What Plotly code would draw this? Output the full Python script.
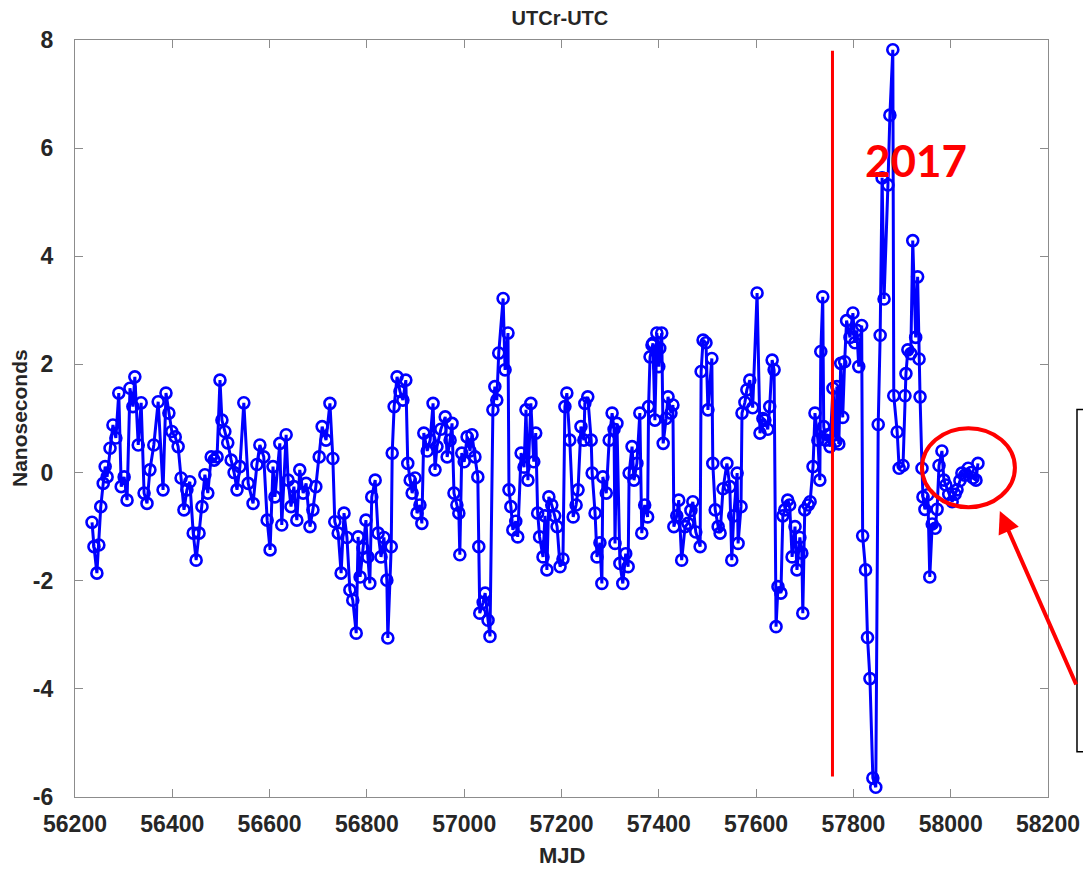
import plotly.graph_objects as go

# ---- data (MJD, nanoseconds) ----
mjd = [56235, 56239, 56245, 56249, 56253, 56258, 56262, 56266, 56272, 56278,
       56284, 56290, 56295, 56301, 56307, 56313, 56319, 56323, 56330, 56336,
       56342, 56348, 56354, 56362, 56371, 56381, 56387, 56393, 56399, 56406,
       56412, 56418, 56424, 56430, 56436, 56443, 56449, 56455, 56461, 56467,
       56473, 56480, 56486, 56492, 56498, 56502, 56508, 56514, 56521, 56527,
       56533, 56539, 56547, 56556, 56566, 56574, 56580, 56588, 56595, 56601,
       56607, 56611, 56621, 56625, 56634, 56638, 56644, 56650, 56656, 56662,
       56669, 56675, 56683, 56689, 56695, 56702, 56708, 56716, 56724, 56730,
       56734, 56741, 56747, 56753, 56759, 56765, 56771, 56778, 56782, 56786,
       56792, 56798, 56802, 56806, 56810, 56817, 56823, 56829, 56835, 56841,
       56843, 56850, 56852, 56856, 56862, 56868, 56874, 56880, 56884, 56889,
       56893, 56899, 56903, 56909, 56913, 56917, 56924, 56930, 56936, 56940,
       56944, 56952, 56961, 56965, 56971, 56975, 56979, 56985, 56989, 56991,
       56995, 57000, 57006, 57012, 57016, 57022, 57028, 57030, 57032, 57039,
       57043, 57049, 57053, 57059, 57063, 57067, 57071, 57080, 57084, 57090,
       57092, 57096, 57100, 57106, 57110, 57117, 57123, 57127, 57131, 57137,
       57143, 57147, 57151, 57155, 57162, 57166, 57170, 57174, 57180, 57186,
       57191, 57197, 57203, 57207, 57211, 57217, 57224, 57230, 57234, 57240,
       57246, 57248, 57254, 57261, 57263, 57269, 57273, 57279, 57283, 57285,
       57292, 57298, 57304, 57308, 57310, 57314, 57320, 57326, 57332, 57337,
       57339, 57345, 57349, 57355, 57361, 57365, 57371, 57377, 57379, 57382,
       57386, 57388, 57392, 57396, 57400, 57402, 57406, 57409, 57415, 57419,
       57425, 57429, 57431, 57437, 57441, 57447, 57454, 57460, 57466, 57470,
       57476, 57485, 57487, 57491, 57497, 57501, 57509, 57511, 57516, 57522,
       57526, 57532, 57540, 57546, 57550, 57554, 57561, 57563, 57569, 57571,
       57577, 57581, 57587, 57593, 57602, 57608, 57614, 57618, 57624, 57628,
       57633, 57637, 57641, 57645, 57651, 57655, 57659, 57665, 57669, 57674,
       57680, 57684, 57690, 57694, 57696, 57700, 57707, 57711, 57717, 57721,
       57727, 57731, 57733, 57737, 57739, 57743, 57747, 57752, 57758, 57764,
       57766, 57770, 57774, 57778, 57782, 57786, 57793, 57799, 57803, 57807,
       57811, 57817, 57819, 57825, 57829, 57834, 57840, 57846, 57851, 57855,
       57859, 57863, 57871, 57875, 57881, 57883, 57890, 57894, 57902, 57906,
       57908, 57912, 57918, 57922, 57928, 57932, 57935, 57937, 57941, 57943,
       57947, 57953, 57957, 57962, 57968, 57972, 57976, 57982, 57986, 57990,
       57996, 58003, 58009, 58013, 58019, 58023, 58029, 58036, 58042, 58046,
       58052, 58056]

utcr_utc = [-0.92, -1.37, -1.86, -1.34, -0.63, -0.20, 0.11, -0.08, 0.45, 0.88,
            0.64, 1.47, -0.26, -0.08, -0.51, 1.56, 1.22, 1.77, 0.51, 1.29,
            -0.38, -0.57, 0.05, 0.51, 1.31, -0.32, 1.47, 1.10, 0.76, 0.66,
            0.48, -0.10, -0.69, -0.32, -0.17, -1.12, -1.62, -1.12, -0.63, -0.04,
            -0.38, 0.29, 0.23, 0.29, 1.71, 0.97, 0.76, 0.55, 0.23, 0.00,
            -0.32, 0.11, 1.29, -0.20, -0.57, 0.15, 0.51, 0.29, -0.88, -1.43,
            0.11, -0.45, 0.54, -0.97, 0.70, -0.14, -0.63, -0.26, -0.88, 0.05,
            -0.38, -0.20, -1.00, -0.69, -0.26, 0.29, 0.85, 0.60, 1.28, 0.26,
            -0.91, -1.12, -1.86, -0.75, -1.20, -2.17, -2.36, -2.97, -1.19, -1.93,
            -1.40, -0.88, -1.56, -2.05, -0.45, -0.14, -1.12, -1.56, -1.20, -1.99,
            -3.06, -1.37, 0.36, 1.22, 1.77, 1.50, 1.34, 1.71, 0.17, -0.14,
            -0.38, -0.10, -0.75, -0.60, -0.94, 0.73, 0.40, 0.60, 1.28, 0.05,
            0.48, 0.80, 1.03, 0.29, 0.60, 0.91, -0.38, -0.60, -0.75, -1.52,
            0.36, 0.20, 0.66, 0.40, 0.70, 0.29, -0.08, -1.37, -2.60, -2.40,
            -2.23, -2.73, -3.03, 1.16, 1.59, 1.34, 2.21, 3.22, 1.90, 2.58,
            -0.32, -0.63, -1.06, -0.90, -1.19, 0.36, 0.10, 1.16, -0.14, 1.28,
            0.20, 0.73, -0.75, -1.19, -1.56, -0.80, -1.80, -0.45, -0.60, -0.80,
            -1.00, -1.74, -1.60, 1.22, 1.47, 0.60, -0.82, -0.60, -0.32, 0.85,
            0.60, 1.28, 1.40, 0.60, -0.01, -0.75, -1.56, -1.30, -2.05, -0.08,
            -0.38, 0.60, 1.10, 0.80, -1.31, 0.91, -1.68, -2.05, -1.50, -1.74,
            -0.01, 0.48, -0.14, 0.17, 1.10, -1.12, -0.60, -0.82, 1.22, 2.14,
            2.36, 2.39, 0.97, 2.58, 1.96, 2.30, 2.58, 0.54, 1.00, 1.40,
            1.10, 1.25, -1.00, -0.80, -0.51, -1.62, -1.00, -0.94, -0.70, -0.54,
            -1.10, -1.37, 1.87, 2.45, 2.40, 1.16, 2.11, 0.17, -0.69, -1.00,
            -1.12, -0.30, 0.17, -0.26, -1.62, -0.80, -0.01, -1.31, -0.63, 1.10,
            1.30, 1.53, 1.71, 1.20, 3.32, 0.73, 1.00, 0.97, 0.80, 1.22,
            2.08, 1.90, -2.85, -2.11, -2.23, -0.80, -0.69, -0.51, -0.60, -1.56,
            -1.00, -1.80, -1.20, -1.49, -2.60, -0.69, -0.60, -0.54, 0.11, 1.10,
            0.60, -0.14, 2.24, 3.25, 0.85, 0.60, 0.70, 0.48, 1.56, 0.58,
            1.59, 0.53, 2.02, 1.02, 2.05, 2.81, 2.50, 2.95, 2.40, 2.63,
            1.96, 2.72, -1.17, -1.80, -3.05, -3.81, -5.65, -5.82, 0.89, 2.54,
            5.45, 3.21, 5.32, 6.61, 7.82, 1.42, 0.75, 0.08, 0.13, 1.42,
            1.83, 2.27, 2.20, 4.29, 2.50, 3.62, 2.10, 1.40, 0.08, -0.45,
            -0.68, -0.41, -1.93, -0.95, -1.03, -0.68, 0.13, 0.40, -0.14, -0.23,
            -0.40, -0.54, -0.40, -0.32, -0.15, -0.01, -0.05, 0.08, 0.00, -0.10,
            -0.14, 0.17]

x_ticks = [56200, 56400, 56600, 56800, 57000, 57200, 57400, 57600, 57800, 58000, 58200]
y_ticks = [-6, -4, -2, 0, 2, 4, 6, 8]

marker_2017 = 57757          # red vertical line (start of 2017)
label_2017 = "2017"

FONT = "Liberation Sans, Arial, sans-serif"
AXIS_GREY = "#8c8c8c"
TEXT = "#262626"

fig = go.Figure()
fig.add_trace(go.Scatter(
    x=mjd, y=utcr_utc, mode="lines+markers",
    line=dict(color="#0000ff", width=3),
    marker=dict(symbol="circle-open", size=11, color="#0000ff",
                line=dict(width=2.6, color="#0000ff")),
    showlegend=False, cliponaxis=False, hoverinfo="skip",
))

axis_common = dict(
    showline=True, linecolor=AXIS_GREY, linewidth=1.2, mirror="ticks",
    ticks="inside", ticklen=8, tickwidth=1.2, tickcolor=AXIS_GREY,
    showgrid=False, zeroline=False, automargin=False,
    tickfont=dict(family=FONT, size=23, color=TEXT, weight="bold"),
)

fig.update_xaxes(range=[56200, 58200], tickvals=x_ticks,
                 ticktext=[str(v) for v in x_ticks], ticklabelstandoff=6,
                 **axis_common)
fig.update_yaxes(range=[-6, 8], tickvals=y_ticks,
                 ticktext=[str(v) for v in y_ticks], ticklabelstandoff=16,
                 **axis_common)

# red vertical line
fig.add_shape(type="line", xref="x", yref="y", x0=marker_2017, x1=marker_2017,
              y0=-5.62, y1=7.8, line=dict(color="#ff0000", width=3))
# red ellipse around the last points
fig.add_shape(type="circle", xref="x", yref="y", x0=57941, x1=58132,
              y0=-0.64, y1=0.82, line=dict(color="#ff0000", width=4))
# partial black box at the right edge
fig.add_shape(type="rect", xref="paper", yref="paper", x0=1.0298, x1=1.2,
              y0=0.0598, y1=0.512, line=dict(color="#000000", width=1.5))

annotations = [
    dict(x=57929, y=5.78, xref="x", yref="y", text=label_2017, showarrow=False,
         font=dict(family="Lato, Open Sans, sans-serif", size=44, color="#ff0000",
                   weight="bold")),
    dict(x=58101, y=-0.71, xref="x", yref="y", text="", showarrow=True,
         ax=77, ay=175, axref="pixel", ayref="pixel", arrowhead=2, arrowsize=1.1,
         arrowwidth=4, arrowcolor="#ff0000", standoff=0),
    dict(x=0.5, y=0, xref="paper", yref="paper", yanchor="top", yshift=-44,
         text="MJD", showarrow=False,
         font=dict(family=FONT, size=22, color=TEXT, weight="bold")),
    dict(x=0, y=0.5, xref="paper", yref="paper", xanchor="right", xshift=-42,
         text="Nanoseconds", textangle=-90, showarrow=False,
         font=dict(family=FONT, size=21, color=TEXT, weight="bold")),
]

fig.update_layout(
    width=1083, height=869,
    margin=dict(l=75, r=35, t=40, b=72, autoexpand=False),
    paper_bgcolor="white", plot_bgcolor="white",
    title=dict(text="UTCr-UTC", x=0.517, xanchor="center", y=0.9793,
               yanchor="middle", yref="container",
               font=dict(family=FONT, size=20, color=TEXT, weight="bold")),
    annotations=annotations,
)

# remove the browser's default 8px body margin so the figure fills the window
fig.write_html("out.html",
               config={"displayModeBar": False},
               post_script="document.body.style.margin='0';"
                           "document.body.style.overflow='hidden';")
